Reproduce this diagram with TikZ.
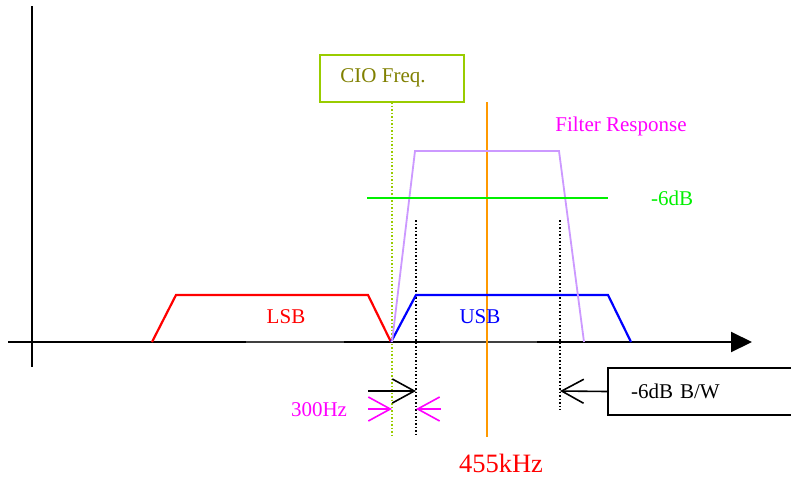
\documentclass[tikz,border=0pt]{standalone}
\usepackage{fontspec}
\setmainfont{Liberation Serif}
\usetikzlibrary{arrows.meta}
\definecolor{lsbred}{HTML}{FF0000}
\definecolor{usbblue}{HTML}{0000FF}
\definecolor{filtlav}{HTML}{CC99FF}
\definecolor{sixgreen}{HTML}{00F000}
\definecolor{hzmag}{HTML}{FF00FF}
\definecolor{loorange}{HTML}{FF9900}
\definecolor{cioyg}{HTML}{99CC00}
\definecolor{ciotext}{HTML}{808000}
\tikzset{
  lbl/.style={inner sep=0pt, font=\fontsize{21}{25}\selectfont},
  axisline/.style={line width=2pt, black},
  thinaxis/.style={line width=1.2pt, black!75},
  band/.style={line width=2.2pt, line join=miter},
  dotline/.style={line width=1.5pt, dotted},
  barb/.style={-{Straight Barb[length=22pt,width=24pt,line width=1.6pt]}, line width=1.6pt},
}
\begin{document}
\begin{tikzpicture}[x=1pt,y=-1pt]
\useasboundingbox (0,0) rectangle (791,477);
\fill[white] (0,0) rectangle (791,477);

% axes
\coordinate (yTop) at (32,6);
\coordinate (yBot) at (32,367);
\coordinate (xL) at (8,342);
\coordinate (xR) at (752,342);
\draw[axisline] (yTop) -- (yBot);
\draw[thinaxis] (xL) -- (735,342);
\draw[axisline] (xL) -- (246,342);
\draw[axisline] (344,342) -- (440,342);
\draw[axisline] (537,342) -- (735,342);
\draw[line width=2pt, -{Triangle[length=21pt,width=20pt]}] (730,342) -- (xR);

% guide lines
\coordinate (cioTop) at (392,102);
\coordinate (cioBot) at (392,438);
\draw[dotline, cioyg] (cioTop) -- (cioBot);
\coordinate (loTop) at (487,102);
\coordinate (loBot) at (487,437);
\draw[line width=2.2pt, loorange] (loTop) -- (loBot);
\coordinate (lDotTop) at (416,220);
\coordinate (lDotBot) at (416,437);
\draw[dotline, black] (lDotTop) -- (lDotBot);
\coordinate (rDotTop) at (560,220);
\coordinate (rDotBot) at (560,410);
\draw[dotline, black] (rDotTop) -- (rDotBot);

% sidebands
\draw[band, lsbred] (152,342) -- (176,295) -- (368,295) -- (391,342);
\draw[band, usbblue] (391,342) -- (416,295) -- (608,295) -- (631,342);
\node[lbl, text=lsbred] (lsb) at (286,317) {LSB};
\node[lbl, text=usbblue] (usb) at (480,317) {USB};

% filter response
\draw[line width=1.8pt, filtlav, line join=miter] (392,342) -- (415,151) -- (559,151) -- (584,342);
\node[lbl, text=hzmag] (filt) at (621,126) {Filter Response};

% -6dB line
\coordinate (gL) at (367,198);
\coordinate (gR) at (608,198);
\draw[line width=2.2pt, sixgreen] (gL) -- (gR);
\node[lbl, text=sixgreen] (six) at (672,198) {-6dB};

% CIO box
\node[draw=cioyg, line width=2pt, minimum width=144pt, minimum height=47pt, inner sep=0pt] (ciobox) at (392,78.5) {};
\node[lbl, text=ciotext] (ciotxt) at (383,78) {CIO Freq.};

% 300Hz arrows
\coordinate (a1s) at (368,391);
\coordinate (a1e) at (416,391);
\draw[barb, black] (a1s) -- (a1e);
\coordinate (m1s) at (368,409);
\coordinate (m1e) at (392,409);
\draw[barb, hzmag] (m1s) -- (m1e);
\coordinate (m2s) at (441,409);
\coordinate (m2e) at (416,409);
\draw[barb, hzmag] (m2s) -- (m2e);
\node[lbl, text=hzmag] (hz) at (319,410) {300Hz};

% -6dB B/W box
\node[draw, line width=2pt, anchor=north west, minimum height=47pt, inner xsep=23pt, inner ysep=0pt, text width=150pt, font=\fontsize{21}{25}\selectfont, align=left] (bwbox) at (607,367) {-6dB B/W};
\coordinate (bwEnd) at (560,391);
\draw[barb, black] (bwbox.west) -- (bwEnd);

% 455kHz
\node[inner sep=0pt, text=lsbred, font=\fontsize{26.5}{30}\selectfont] (lo) at (501,463) {455kHz};
\end{tikzpicture}
\end{document}
